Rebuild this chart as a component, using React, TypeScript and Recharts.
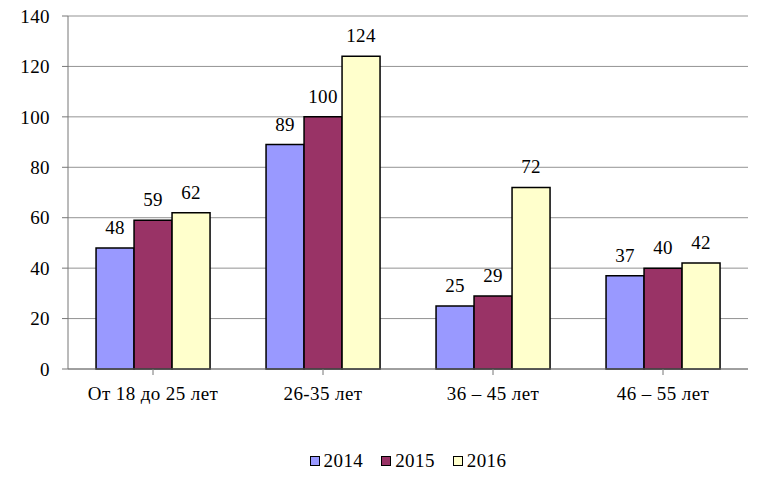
import React from "react";
import { BarChart, Bar, XAxis, YAxis, CartesianGrid, Legend, LabelList } from "recharts";

const categories = ["От 18 до 25 лет", "26-35 лет", "36 – 45 лет", "46 – 55 лет"];
const values2014 = [48, 89, 25, 37];
const values2015 = [59, 100, 29, 40];
const values2016 = [62, 124, 72, 42];
const yTicks = [0, 20, 40, 60, 80, 100, 120, 140];
const seriesNames = ["2014", "2015", "2016"];
const seriesColors = ["#9999FF", "#993366", "#FFFFCC"];

const data = categories.map((c, i) => ({
  name: c,
  y2014: values2014[i],
  y2015: values2015[i],
  y2016: values2016[i],
}));

const FONT = "Liberation Serif";
const FS = 19;
const LS = 0.4;

const renderLegend = () => (
  <div style={{ display: "flex", justifyContent: "center", alignItems: "center", fontFamily: FONT, fontSize: FS, letterSpacing: LS, color: "#000", paddingLeft: 60 }}>
    {seriesNames.map((n, i) => (
      <div key={n} style={{ display: "flex", alignItems: "center", marginRight: i < 2 ? 18 : 0 }}>
        <span style={{ display: "inline-block", width: 8, height: 8, border: "1.5px solid #000", background: seriesColors[i], marginRight: 4 }} />
        <span>{n}</span>
      </div>
    ))}
  </div>
);

export default function App() {
  return (
    <div style={{ position: "absolute", left: 0, top: 0, width: 764, height: 481, background: "#fff", fontFamily: FONT }}>
      <BarChart
        width={764}
        height={481}
        data={data}
        margin={{ top: 16, right: 16, left: 8, bottom: 50 }}
        barCategoryGap="16.5%"
        barGap={0}
        style={{ fontFamily: FONT }}
      >
        <CartesianGrid vertical={false} stroke="#939393" strokeWidth={1} />
        <XAxis
          dataKey="name"
          stroke="#777"
          tickSize={6}
          tickMargin={12}
          height={40}
          interval={0}
          tick={{ fill: "#000", fontFamily: FONT, fontSize: FS, letterSpacing: LS }}
        />
        <YAxis
          width={60}
          domain={[0, 140]}
          ticks={yTicks}
          stroke="#777"
          tickSize={6}
          tickMargin={12}
          interval={0}
          tick={{ fill: "#000", fontFamily: FONT, fontSize: FS, letterSpacing: LS }}
        />
        <Legend
          verticalAlign="bottom"
          align="center"
          content={renderLegend}
          wrapperStyle={{ bottom: 9 }}
        />
        {seriesNames.map((n, i) => (
          <Bar key={n} dataKey={"y" + n} name={n} fill={seriesColors[i]} stroke="#000" strokeWidth={1.5} isAnimationActive={false}>
            <LabelList dataKey={"y" + n} position="top" offset={14} fill="#000" fontFamily={FONT} fontSize={FS} letterSpacing={LS} />
          </Bar>
        ))}
      </BarChart>
    </div>
  );
}
